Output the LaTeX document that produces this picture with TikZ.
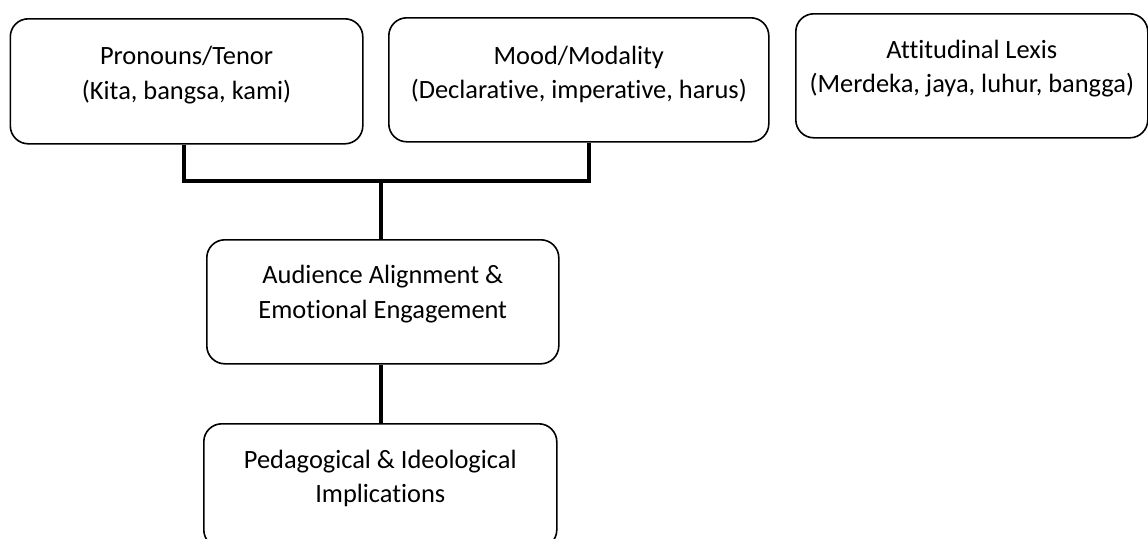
\documentclass[tikz,border=0pt]{standalone}
\usepackage{fontspec}
\setmainfont{Carlito}[Ligatures={NoCommon}]
\tikzset{
  box/.style={draw=black, line width=1.6pt, rounded corners=18pt, anchor=north west,
    inner xsep=0pt, inner ysep=0pt, align=center,
    font=\fontsize{26.4}{34.5}\selectfont},
  conn/.style={draw=black, line width=3.5pt}
}
\begin{document}
\begin{tikzpicture}[x=1pt,y=-1pt]
\useasboundingbox (0,0) rectangle (1148,538);
\node[box, minimum width=352.5pt, text height=80.3pt, text depth=44.7pt] (b1) at (9.5,18) {Pronouns/Tenor\\(Kita, bangsa, kami)};
\node[box, minimum width=380pt, text height=81pt, text depth=43pt] (b2) at (388,17) {Mood/Modality\\(Declarative, imperative, harus)};
\node[box, minimum width=352pt, text height=78.7pt, text depth=45.3pt] (b3) at (795,13) {Attitudinal Lexis\\(Merdeka, jaya, luhur, bangga)};
\node[box, minimum width=352pt, text height=78.3pt, text depth=45.7pt] (b4) at (206,239) {Audience Alignment \&\\Emotional Engagement};
\node[box, minimum width=353pt, text height=78.7pt, text depth=45.3pt] (b5) at (203,423) {Pedagogical \& Ideological\\Implications};
\coordinate (m) at (381,181);
\draw[conn] ([xshift=-2.5pt]b1.south) |- (m) -| ([xshift=10pt]b2.south);
\draw[conn] (m) -- (m |- b4.north);
\draw[conn] (b4.south -| m) -- (m |- b5.north);
\end{tikzpicture}
\end{document}
